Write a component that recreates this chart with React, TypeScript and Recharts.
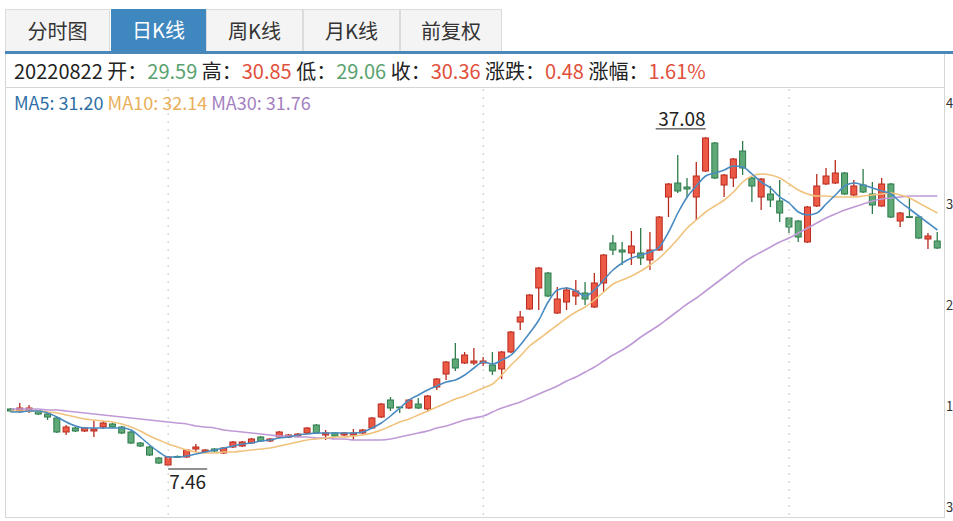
import { ComposedChart, Bar, Line, XAxis, YAxis, ReferenceLine, ReferenceDot } from 'recharts'

const opens = [
  12.59, 12.41, 12.41, 12.41, 12.14, 11.78, 10.52, 10.88, 10.61, 10.61,
  10.97, 11.24, 10.97, 10.52, 9.53, 9.17, 8.18, 7.55, 8.32, 8.27,
  8.99, 8.72, 8.99, 8.63, 9.17, 9.26, 9.53, 10.07, 9.71, 10.07,
  10.07, 10.16, 10.43, 11.15, 10.25, 10.43, 10.25, 10.25, 10.43, 10.88,
  11.87, 13.4, 12.77, 12.68, 13.04, 12.59, 14.57, 15.74, 17.09, 16.73,
  16.73, 16.73, 16.55, 16.19, 17.72, 20.42, 21.59, 23.48, 24.83, 21.23,
  22.22, 22.76, 23.03, 21.77, 23.93, 27.53, 26.9, 26.63, 26.63, 26.0,
  26.9, 31.67, 32.93, 32.57, 31.67, 34.01, 36.53, 32.75, 33.38, 35.81,
  33.38, 31.67, 31.94, 31.31, 29.78, 29.51, 27.62, 30.86, 32.84, 32.93,
  33.83, 31.85, 32.75, 31.94, 30.86, 32.84, 29.51, 29.9, 29.87, 27.89,
  27.71,
]
const highs = [
  12.68, 13.13, 12.95, 12.5, 12.32, 11.87, 11.15, 10.97, 10.97, 11.51,
  11.51, 11.33, 11.06, 10.61, 9.62, 9.26, 8.27, 8.36, 8.4, 8.99,
  9.44, 8.99, 9.08, 9.17, 9.71, 9.71, 9.98, 10.16, 9.98, 10.61,
  10.34, 10.43, 10.97, 11.24, 10.7, 10.52, 10.52, 10.79, 10.79, 11.87,
  13.13, 13.67, 12.8, 13.49, 13.58, 13.85, 15.38, 16.91, 18.53, 17.72,
  18.08, 17.27, 17.72, 17.81, 19.61, 21.41, 22.94, 25.37, 24.92, 23.57,
  23.57, 24.2, 24.02, 24.83, 26.54, 28.25, 27.62, 28.61, 28.88, 28.52,
  29.96, 32.93, 35.45, 33.38, 34.82, 37.08, 36.62, 33.74, 35.18, 36.71,
  33.47, 33.38, 32.66, 33.2, 29.87, 29.6, 30.86, 33.74, 34.28, 35.0,
  33.92, 33.2, 34.19, 33.02, 33.38, 32.93, 30.32, 31.58, 29.96, 28.43,
  28.52,
]
const lows = [
  12.32, 12.23, 12.23, 12.05, 11.6, 10.43, 10.25, 10.52, 10.52, 10.07,
  10.79, 10.88, 10.34, 9.44, 9.17, 8.36, 7.64, 7.46, 8.18, 8.18,
  8.72, 8.63, 8.72, 8.54, 9.08, 9.17, 9.44, 9.62, 9.62, 9.98,
  9.98, 10.07, 10.34, 10.34, 9.8, 10.07, 10.16, 9.8, 10.34, 10.79,
  11.78, 12.41, 12.23, 12.59, 12.59, 12.32, 14.3, 15.2, 16.01, 16.64,
  16.55, 16.46, 15.65, 15.29, 17.63, 19.7, 21.5, 21.5, 22.67, 21.14,
  21.5, 21.95, 21.95, 21.68, 23.12, 26.45, 25.55, 25.55, 25.55, 25.1,
  26.81, 29.87, 32.03, 31.58, 29.6, 33.92, 33.29, 31.67, 32.57, 33.65,
  31.22, 30.5, 30.77, 29.42, 28.43, 27.62, 27.53, 30.77, 32.75, 32.84,
  31.85, 31.76, 32.03, 30.14, 30.77, 29.78, 28.97, 29.8, 27.89, 26.99,
  26.99,
]
const closes = [
  12.41, 12.68, 12.68, 12.14, 11.87, 10.52, 10.97, 10.61, 10.88, 10.79,
  11.33, 10.97, 10.43, 9.53, 9.26, 8.45, 7.73, 8.27, 8.24, 8.9,
  9.17, 8.9, 8.81, 9.08, 9.62, 9.62, 9.89, 9.71, 9.89, 10.52,
  10.25, 10.34, 10.88, 10.43, 10.43, 10.16, 10.43, 10.43, 10.7, 11.78,
  13.04, 12.68, 12.7, 13.4, 12.68, 13.76, 15.29, 16.82, 16.28, 17.45,
  16.91, 16.91, 16.01, 17.72, 19.52, 20.87, 22.85, 25.28, 22.76, 22.49,
  23.3, 23.21, 22.49, 23.93, 26.45, 26.9, 26.72, 27.26, 26.18, 26.9,
  29.87, 32.84, 32.21, 32.39, 33.56, 36.98, 33.38, 33.65, 35.09, 34.28,
  32.66, 33.29, 31.4, 30.23, 28.97, 28.07, 30.77, 32.66, 33.56, 33.83,
  31.94, 32.66, 32.12, 30.95, 32.84, 29.87, 30.23, 29.85, 27.98, 28.16,
  27.08,
]
const ma5 = [
  12.32, 12.32, 12.41, 12.41, 12.23, 11.87, 11.42, 11.06, 10.88, 10.88,
  10.88, 10.88, 10.88, 10.7, 10.07, 9.35, 8.72, 8.27, 8.27, 8.36,
  8.54, 8.72, 8.9, 9.08, 9.26, 9.44, 9.53, 9.71, 9.8, 9.98,
  10.07, 10.25, 10.34, 10.43, 10.43, 10.43, 10.43, 10.43, 10.52, 10.88,
  11.33, 11.96, 12.68, 13.4, 13.85, 14.3, 14.66, 15.02, 15.2, 15.65,
  16.28, 16.82, 16.64, 17.0, 17.45, 18.35, 19.43, 20.6, 22.22, 23.3,
  23.48, 23.21, 22.76, 23.3, 24.2, 25.1, 25.73, 26.18, 26.45, 26.72,
  27.17, 28.52, 30.23, 31.67, 32.66, 33.56, 33.83, 34.1, 34.46, 34.37,
  33.74, 33.02, 32.48, 31.67, 31.13, 30.32, 30.05, 30.23, 31.04, 31.85,
  32.66, 32.93, 32.75, 32.48, 32.21, 31.94, 31.22, 30.59, 29.96, 29.33,
  28.7,
]
const ma10 = [
  12.41, 12.41, 12.41, 12.41, 12.32, 12.23, 12.05, 11.87, 11.69, 11.6,
  11.51, 11.42, 11.24, 10.97, 10.61, 10.16, 9.8, 9.44, 9.17, 8.9,
  8.72, 8.63, 8.63, 8.72, 8.72, 8.81, 8.9, 8.99, 9.08, 9.26,
  9.44, 9.62, 9.8, 9.89, 9.98, 10.07, 10.07, 10.16, 10.25, 10.43,
  10.7, 11.06, 11.42, 11.69, 12.05, 12.41, 12.77, 13.13, 13.49, 13.76,
  14.12, 14.48, 14.84, 15.65, 16.55, 17.36, 18.26, 18.89, 19.52, 20.15,
  20.78, 21.32, 21.77, 22.4, 23.12, 23.84, 24.2, 24.56, 25.01, 25.55,
  26.18, 26.99, 27.89, 28.88, 29.6, 30.32, 30.86, 31.4, 32.12, 33.02,
  33.56, 33.74, 33.65, 33.38, 32.84, 32.3, 31.94, 31.76, 31.76, 31.67,
  31.67, 31.67, 31.76, 31.85, 31.94, 32.03, 31.85, 31.58, 31.13, 30.68,
  30.23,
]
const ma30 = [
  12.59, 12.59, 12.59, 12.59, 12.5, 12.5, 12.41, 12.32, 12.23, 12.14,
  12.05, 11.96, 11.87, 11.78, 11.69, 11.6, 11.51, 11.42, 11.33, 11.24,
  11.06, 10.97, 10.88, 10.7, 10.61, 10.52, 10.43, 10.34, 10.25, 10.16,
  10.16, 10.07, 10.07, 9.98, 9.98, 9.89, 9.89, 9.8, 9.8, 9.8,
  9.8, 9.89, 10.07, 10.25, 10.43, 10.61, 10.88, 11.06, 11.33, 11.6,
  11.78, 11.96, 12.32, 12.68, 12.95, 13.22, 13.58, 13.94, 14.3, 14.66,
  15.11, 15.47, 15.92, 16.37, 16.91, 17.45, 17.9, 18.44, 19.07, 19.61,
  20.15, 20.78, 21.41, 22.04, 22.58, 23.21, 23.84, 24.47, 25.1, 25.73,
  26.27, 26.72, 27.17, 27.62, 27.98, 28.43, 28.88, 29.33, 29.78, 30.14,
  30.5, 30.77, 31.04, 31.31, 31.49, 31.58, 31.67, 31.76, 31.76, 31.76,
  31.76,
]

const tabs = ['分时图', '日K线', '周K线', '月K线', '前复权']
const tabLefts = [5, 111, 206, 303, 400]
const tabWidths = [105, 95, 97, 97, 102]
const monthStarts = [17, 51, 84]
const priceTicks = [40.13, 31.04, 21.95, 12.86, 3.77]

const UP = '#ec5a46'
const UP_EDGE = '#b82a1e'
const DOWN = '#5fa878'
const DOWN_EDGE = '#2d7b4a'
const GREEN_TXT = '#5aa26f'
const RED_TXT = '#e1503c'

const data = opens.map((open, i) => ({
  i,
  open,
  high: highs[i],
  low: lows[i],
  close: closes[i],
  range: [lows[i], highs[i]],
  ma5: ma5[i],
  ma10: ma10[i],
  ma30: ma30[i],
}))

const maxIdx = highs.indexOf(Math.max(...highs))
const minIdx = lows.indexOf(Math.min(...lows))

function Candle(props: any) {
  const { x, y, width, height, payload } = props
  if (x == null || !payload) return null
  const { open, close, high, low } = payload
  const top = Math.min(y, y + height)
  const h = Math.abs(height)
  const span = high - low || 1
  const py = (v: number) => top + ((high - v) / span) * h
  const up = close >= open
  const cx = x + width / 2
  const bTop = py(Math.max(open, close))
  const bBot = py(Math.min(open, close))
  const edge = up ? UP_EDGE : DOWN_EDGE
  return (
    <g>
      <line x1={cx} x2={cx} y1={top} y2={top + h} stroke={edge} strokeWidth={1.3} />
      <rect
        x={x + 0.5}
        y={bTop}
        width={width - 1}
        height={Math.max(bBot - bTop, 0.8)}
        fill={up ? UP : DOWN}
        stroke={edge}
        strokeWidth={1}
      />
    </g>
  )
}

const HighMark = (props: any) => {
  const { cx, cy } = props
  return (
    <g>
      <text x={cx} y={cy - 11} textAnchor="end" fontSize={19} fill="#222">
        {highs[maxIdx].toFixed(2)}
      </text>
      <line x1={cx - 50} x2={cx} y1={cy - 8} y2={cy - 8} stroke="#222" strokeWidth={1} />
    </g>
  )
}

const LowMark = (props: any) => {
  const { cx, cy } = props
  return (
    <g>
      <line x1={cx} x2={cx + 39} y1={cy + 3} y2={cy + 3} stroke="#222" strokeWidth={1} />
      <text x={cx + 1} y={cy + 23} textAnchor="start" fontSize={19} fill="#222">
        {lows[minIdx].toFixed(2)}
      </text>
    </g>
  )
}

export default function App() {
  return (
    <div
      style={{
        position: 'absolute',
        left: 0,
        top: 0,
        width: 953,
        height: 521,
        overflow: 'hidden',
        background: '#fff',
        fontFamily: '"Noto Sans CJK SC", "Noto Sans", sans-serif',
        color: '#222',
      }}
    >
      {tabs.map((t, k) => (
        <div
          key={t}
          style={{
            position: 'absolute',
            left: tabLefts[k],
            top: 9,
            width: tabWidths[k],
            height: 42,
            boxSizing: 'border-box',
            border: k === 1 ? 'none' : '1px solid #dcdcdc',
            borderBottom: 'none',
            background: k === 1 ? '#3f87bf' : '#f4f4f4',
            color: k === 1 ? '#fff' : '#333',
            fontSize: 20,
            lineHeight: '42px',
            textAlign: 'center',
          }}
        >
          {t}
        </div>
      ))}
      <div style={{ position: 'absolute', left: 5, top: 51, width: 948, height: 3, background: '#4a87ba' }} />

      <div
        style={{
          position: 'absolute',
          left: 5,
          top: 54,
          width: 940,
          height: 464,
          boxSizing: 'border-box',
          borderLeft: '1px solid #d6d6d6',
          borderRight: '1px solid #d6d6d6',
          borderBottom: '1px solid #d6d6d6',
        }}
      />
      <div style={{ position: 'absolute', left: 5, top: 87, width: 940, height: 1, background: '#d6d6d6' }} />

      <div style={{ position: 'absolute', left: 14, top: 54, height: 33, lineHeight: '33px', fontSize: 20, whiteSpace: 'nowrap' }}>
        20220822 开：<span style={{ color: GREEN_TXT }}>29.59</span> 高：
        <span style={{ color: RED_TXT }}>30.85</span> 低：<span style={{ color: GREEN_TXT }}>29.06</span> 收：
        <span style={{ color: RED_TXT }}>30.36</span> 涨跌：<span style={{ color: RED_TXT }}>0.48</span> 涨幅：
        <span style={{ color: RED_TXT }}>1.61%</span>
      </div>

      <div style={{ position: 'absolute', left: 0, top: 0 }}>
        <ComposedChart width={992} height={521} data={data} margin={{ top: 88, right: 0, bottom: 6, left: 6 }}>
          <XAxis dataKey="i" type="category" hide />
          <YAxis
            orientation="right"
            domain={[3.05, 41.48]}
            ticks={priceTicks}
            axisLine={false}
            tickLine={false}
            tickSize={0}
            tickMargin={4}
            width={50}
            tick={{ fontSize: 13, fill: '#333' }}
          />
          {monthStarts.map((m) => (
            <ReferenceLine key={m} x={m} stroke="#c8c8c8" strokeDasharray="2 6" />
          ))}
          <Bar dataKey="range" barSize={7} shape={(p: any) => <Candle {...p} />} isAnimationActive={false} />
          <Line type="monotone" dataKey="ma30" stroke="#bf9ad6" strokeWidth={1.6} dot={false} isAnimationActive={false} />
          <Line type="monotone" dataKey="ma10" stroke="#f1c27c" strokeWidth={1.6} dot={false} isAnimationActive={false} />
          <Line type="monotone" dataKey="ma5" stroke="#4a8bc1" strokeWidth={1.6} dot={false} isAnimationActive={false} />
          <ReferenceDot x={maxIdx} y={highs[maxIdx]} shape={HighMark} />
          <ReferenceDot x={minIdx} y={lows[minIdx]} shape={LowMark} />
        </ComposedChart>
      </div>

      <div style={{ position: 'absolute', left: 14, top: 90, fontSize: 18, lineHeight: '24px', whiteSpace: 'nowrap' }}>
        <span style={{ color: '#2f6ea6' }}>MA5: 31.20</span>{' '}
        <span style={{ color: '#e9ae58' }}>MA10: 32.14</span>{' '}
        <span style={{ color: '#a47fbf' }}>MA30: 31.76</span>
      </div>
    </div>
  )
}
